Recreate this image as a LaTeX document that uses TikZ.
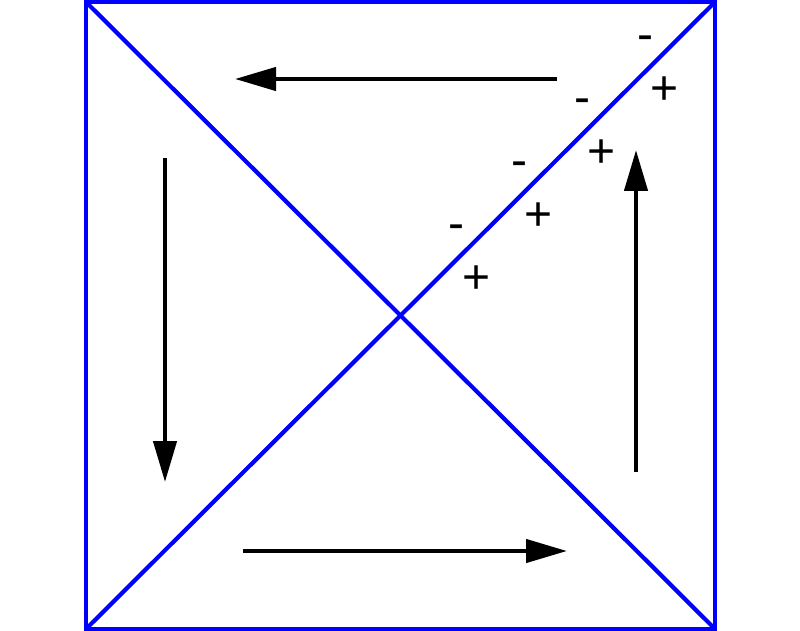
\documentclass[tikz,border=0pt]{standalone}
\usepackage{fontspec}
\setmainfont{Liberation Sans}
\usetikzlibrary{arrows.meta}
\begin{document}
\begin{tikzpicture}[x=1pt,y=-1pt,
  edge/.style={draw={rgb,255:red,0;green,0;blue,255},line width=4.2pt},
  flow/.style={draw=black,line width=4.4pt,-{Triangle[length=41pt,width=23pt]}},
  sign/.style={inner sep=0pt,font=\fontsize{48}{48}\selectfont}]
\useasboundingbox (0,0) rectangle (800,631);
\coordinate (tl) at (86,2);
\coordinate (tr) at (715,2);
\coordinate (br) at (715,629);
\coordinate (bl) at (86,629);
\draw[edge] (tl) -- (tr) -- (br) -- (bl) -- cycle;
\draw[edge] (tl) -- (br);
\draw[edge] (bl) -- (tr);
% circulation arrows
\coordinate (a1s) at (557,79);  \coordinate (a1e) at (235,79);
\coordinate (a2s) at (165,158); \coordinate (a2e) at (165,482);
\coordinate (a3s) at (243,551); \coordinate (a3e) at (567,551);
\coordinate (a4s) at (636,472); \coordinate (a4e) at (636,150);
\draw[flow] (a1s) -- (a1e);
\draw[flow] (a2s) -- (a2e);
\draw[flow] (a3s) -- (a3e);
\draw[flow] (a4s) -- (a4e);
% charges
\node[sign] (m1) at (645,43) {-};
\node[sign] (p1) at (665,91) {+};
\node[sign] (m2) at (582,106) {-};
\node[sign] (p2) at (602,154) {+};
\node[sign] (m3) at (519,169) {-};
\node[sign] (p3) at (539,217) {+};
\node[sign] (m4) at (456,232) {-};
\node[sign] (p4) at (477,280) {+};
\end{tikzpicture}
\end{document}
